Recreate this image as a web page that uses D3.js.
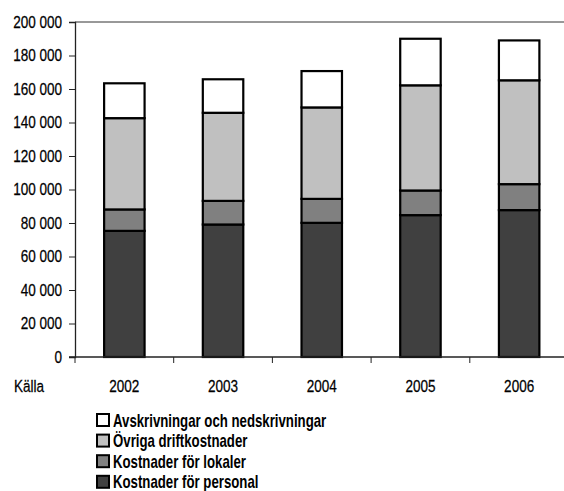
<!DOCTYPE html>
<html>
<head>
<meta charset="utf-8">
<script src="https://cdn.jsdelivr.net/npm/d3@7"></script>
<style>
  body { margin: 0; background: #fff; }
  svg { font-family: "Liberation Sans", Arial, sans-serif; }
  .reg { stroke: #000; stroke-width: 0.25px; }
</style>
</head>
<body>
<svg id="chart" width="564" height="491"></svg>
<script>
// Data
var years = ["2002", "2003", "2004", "2005", "2006"];
var personal = [75300, 79100, 80100, 84700, 87700];
var lokaler = [12800, 14100, 14300, 14700, 15500];
var ovriga = [54500, 52600, 54600, 62800, 62000];
var avskrivningar = [20800, 20000, 21700, 27800, 23800];
var seriesNames = ["Kostnader för personal", "Kostnader för lokaler", "Övriga driftkostnader", "Avskrivningar och nedskrivningar"];
var seriesColors = ["#404040", "#808080", "#c0c0c0", "#ffffff"];
var yTicks = [0, 20000, 40000, 60000, 80000, 100000, 120000, 140000, 160000, 180000, 200000];

var svg = d3.select("#chart");
var margin = { left: 75, top: 22, bottom: 357 };
var bandStep = 98.7;
var squeeze = 0.82;   // the original uses a condensed face
var fs = 16.5;

var rows = years.map(function (y, i) {
  return { year: y, s0: personal[i], s1: lokaler[i], s2: ovriga[i], s3: avskrivningar[i] };
});
var layers = d3.stack().keys(["s0", "s1", "s2", "s3"])(rows);

var x = d3.scaleBand()
  .domain(years)
  .range([margin.left, margin.left + bandStep * years.length])
  .paddingInner(0.59)
  .paddingOuter(0.295);
var y = d3.scaleLinear().domain([0, 200000]).range([margin.bottom, margin.top]);

var fmt = function (d) { return d3.format(",")(d).replace(/,/g, " "); };

// top border of plot area
svg.append("line")
  .attr("x1", margin.left).attr("x2", 564)
  .attr("y1", y(200000)).attr("y2", y(200000))
  .attr("stroke", "#333").attr("stroke-width", 1);

// bars
svg.selectAll("g.layer")
  .data(layers)
  .join("g")
  .attr("class", "layer")
  .attr("fill", function (d, i) { return seriesColors[i]; })
  .selectAll("rect")
  .data(function (d) { return d; })
  .join("rect")
  .attr("x", function (d) { return x(d.data.year); })
  .attr("width", x.bandwidth())
  .attr("y", function (d) { return y(d[1]); })
  .attr("height", function (d) { return y(d[0]) - y(d[1]); })
  .attr("stroke", "#000")
  .attr("stroke-width", 2.2);

// y axis
var yAxis = svg.append("g")
  .attr("transform", "translate(" + margin.left + ",0)")
  .call(d3.axisLeft(y).tickValues(yTicks).tickFormat(fmt).tickSize(6));
yAxis.select(".domain").attr("stroke", "#222").attr("stroke-width", 1.3);
yAxis.selectAll(".tick line").attr("stroke", "#222");
yAxis.selectAll("text")
  .attr("class", "reg")
  .attr("font-size", fs).attr("fill", "#000")
  .attr("font-family", null)
  .attr("x", -13 / squeeze)
  .attr("transform", "scale(" + squeeze + ",1)");

// x axis line + ticks between categories
svg.append("line")
  .attr("x1", margin.left - 6).attr("x2", 564)
  .attr("y1", y(0)).attr("y2", y(0))
  .attr("stroke", "#222").attr("stroke-width", 1.3);
svg.selectAll("line.xtick")
  .data(d3.range(years.length + 1))
  .join("line")
  .attr("class", "xtick")
  .attr("x1", function (i) { return margin.left + i * bandStep; })
  .attr("x2", function (i) { return margin.left + i * bandStep; })
  .attr("y1", y(0)).attr("y2", y(0) + 6)
  .attr("stroke", "#222");
svg.selectAll("text.xlab")
  .data(years)
  .join("text")
  .attr("class", "xlab reg")
  .attr("transform", function (d) {
    return "translate(" + (x(d) + x.bandwidth() / 2) + ",392) scale(" + squeeze + ",1)";
  })
  .attr("text-anchor", "middle")
  .attr("font-size", fs)
  .text(function (d) { return d; });

svg.append("text")
  .attr("class", "reg")
  .attr("transform", "translate(14,392) scale(" + squeeze + ",1)")
  .attr("font-size", fs)
  .text("Källa");

// legend (reverse order, top = last series)
var legendOrder = [3, 2, 1, 0];
var legend = svg.selectAll("g.leg")
  .data(legendOrder)
  .join("g")
  .attr("class", "leg")
  .attr("transform", function (d, i) { return "translate(97," + (420 + i * 20.6) + ")"; });
legend.append("rect")
  .attr("x", 0).attr("y", -6)
  .attr("width", 12).attr("height", 12)
  .attr("fill", function (d) { return seriesColors[d]; })
  .attr("stroke", "#000").attr("stroke-width", 2);
legend.append("text")
  .attr("transform", "translate(16,6.5) scale(0.735,1)")
  .attr("font-size", 18)
  .attr("font-weight", "bold")
  .text(function (d) { return seriesNames[d]; });
</script>
</body>
</html>
